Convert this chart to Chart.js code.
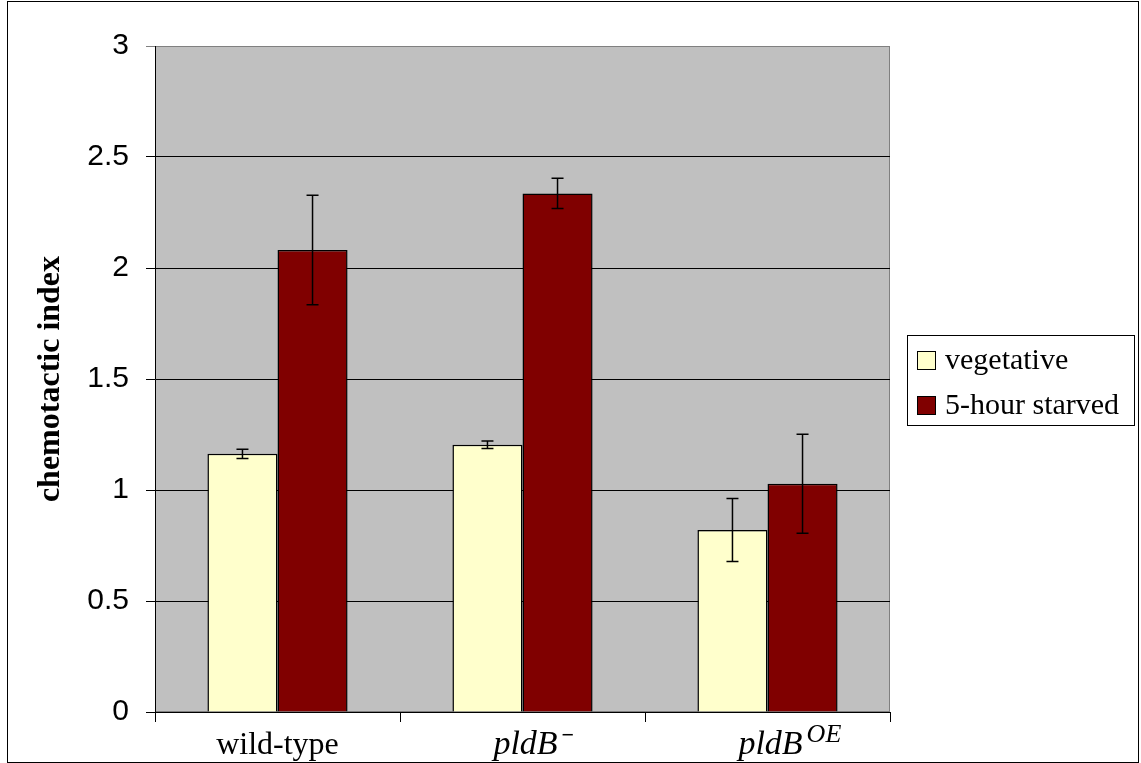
<!doctype html>
<html lang="en">
<head>
  <meta charset="utf-8">
  <title>chemotactic index</title>
  <script src="https://cdn.jsdelivr.net/npm/chart.js@4.4.1/dist/chart.umd.min.js"></script>
  <style>
    * { margin: 0; padding: 0; }
    body { background: #fff; width: 1141px; height: 763px; overflow: hidden; }
  </style>
</head>
<body>
  <canvas id="myChart" width="1141" height="763"></canvas>
  <script>
    // data
    const categories = ['wild-type', 'pldB', 'pldB'];
    const categorySup = ['', '\u2212', 'OE'];
    const seriesNames = ['vegetative', '5-hour starved'];
    const vegetative = [1.163, 1.204, 0.820];
    const vegetativeErr = [0.021, 0.017, 0.142];
    const starved = [2.081, 2.336, 1.028];
    const starvedErr = [0.247, 0.068, 0.223];
    const yTicks = [0, 0.5, 1, 1.5, 2, 2.5, 3];

    const serif = "'Liberation Serif', 'Times New Roman', serif";
    const sans = "'Liberation Sans', Arial, sans-serif";

    // grey plot area with its border, plus the outer frame
    const plotBg = {
      id: 'plotBg',
      beforeDraw(chart) {
        const { ctx, chartArea: a, width, height } = chart;
        ctx.save();
        ctx.fillStyle = '#c0c0c0';
        ctx.fillRect(a.left, a.top, a.right - a.left, a.bottom - a.top);
        ctx.strokeStyle = '#808080';
        ctx.lineWidth = 1;
        ctx.strokeRect(a.left + 0.5, a.top + 0.5, a.right - a.left - 1, a.bottom - a.top - 1);
        ctx.strokeStyle = '#000';
        ctx.strokeRect(7.5, 1.5, width - 10, height - 2);
        ctx.restore();
      }
    };

    // error bars
    const errorBars = {
      id: 'errorBars',
      afterDatasetsDraw(chart) {
        const { ctx } = chart;
        const y = chart.scales.y;
        ctx.save();
        ctx.strokeStyle = '#000';
        ctx.lineWidth = 1.5;
        chart.data.datasets.forEach((ds, di) => {
          const meta = chart.getDatasetMeta(di);
          meta.data.forEach((bar, i) => {
            const v = ds.data[i], e = ds.errors[i];
            const top = y.getPixelForValue(v + e);
            const bot = y.getPixelForValue(v - e);
            ctx.beginPath();
            ctx.moveTo(bar.x, top); ctx.lineTo(bar.x, bot);
            ctx.moveTo(bar.x - 6, top); ctx.lineTo(bar.x + 6, top);
            ctx.moveTo(bar.x - 6, bot); ctx.lineTo(bar.x + 6, bot);
            ctx.stroke();
          });
        });
        ctx.restore();
      }
    };

    // category labels with italic gene names and superscripts
    const xLabels = {
      id: 'xLabels',
      afterDraw(chart) {
        const { ctx } = chart;
        const x = chart.scales.x;
        const base = x.bottom - 9;
        ctx.save();
        ctx.fillStyle = '#000';
        ctx.textBaseline = 'alphabetic';
        ctx.textAlign = 'left';
        categories.forEach((label, i) => {
          const cx = x.getPixelForTick(i);
          ctx.font = (i === 0 ? '32px ' : 'italic 34px ') + serif;
          const w = ctx.measureText(label).width;
          const left = i === 0 ? cx - w / 2 : cx - w / 2 + 3;
          ctx.fillText(label, left, base);
          if (categorySup[i]) {
            ctx.font = (i === 2 ? 'italic 26px ' : 'bold 22px ') + serif;
            ctx.fillText(categorySup[i], left + w + 4, base - 12);
          }
        });
        ctx.restore();
      }
    };

    // boxed legend on the right
    const boxLegend = {
      id: 'boxLegend',
      afterDraw(chart) {
        const { ctx, chartArea: a } = chart;
        const left = a.right + 17, top = 335, w = 227, h = 90;
        ctx.save();
        ctx.strokeStyle = '#000';
        ctx.lineWidth = 1;
        ctx.strokeRect(left + 0.5, top + 0.5, w, h);
        ctx.font = '30px ' + serif;
        ctx.textBaseline = 'middle';
        ctx.textAlign = 'left';
        chart.data.datasets.forEach((ds, i) => {
          const cy = top + 25 + i * 45;
          ctx.fillStyle = ds.backgroundColor;
          ctx.fillRect(left + 10, cy - 9, 19, 19);
          ctx.strokeRect(left + 10.5, cy - 8.5, 18, 18);
          ctx.fillStyle = '#000';
          ctx.fillText(ds.label, left + 38, cy + 1);
        });
        ctx.restore();
      }
    };

    const data = {
      labels: categories.map((c, i) => c + categorySup[i]),
      datasets: [{
        label: seriesNames[0],
        data: vegetative,
        errors: vegetativeErr,
        backgroundColor: '#ffffcc',
        borderColor: '#000',
        borderWidth: 1.5,
        categoryPercentage: 0.572,
        barPercentage: 1
      }, {
        label: seriesNames[1],
        data: starved,
        errors: starvedErr,
        backgroundColor: '#800000',
        borderColor: '#000',
        borderWidth: 1.5,
        categoryPercentage: 0.572,
        barPercentage: 1
      }]
    };

    const config = {
      type: 'bar',
      data,
      options: {
        responsive: false,
        animation: false,
        devicePixelRatio: 1,
        layout: { padding: { top: 46, right: 251, left: 0, bottom: 0 } },
        plugins: {
          legend: { display: false },
          tooltip: { enabled: false }
        },
        scales: {
          x: {
            offset: true,
            grid: {
              offset: true,
              drawOnChartArea: false,
              drawTicks: true,
              tickLength: 10,
              color: '#000'
            },
            border: { display: true, color: '#000' },
            ticks: { color: 'rgba(0,0,0,0)', font: { size: 31, family: serif } },
            afterFit(scale) { scale.height = 51; }
          },
          y: {
            min: 0,
            max: 3,
            afterBuildTicks(scale) { scale.ticks = yTicks.map(v => ({ value: v })); },
            grid: {
              color: (c) => c.tick && c.tick.value === 3 ? '#808080' : '#000',
              tickLength: 9
            },
            border: { display: true, color: '#000' },
            ticks: {
              padding: 17,
              color: '#000',
              font: { size: 30, family: sans },
              callback: (v) => String(v)
            },
            title: {
              display: true,
              text: 'chemotactic index',
              color: '#000',
              font: { size: 32, weight: 'bold', family: serif },
              padding: { top: 32, bottom: 0 }
            },
            afterFit(scale) { scale.width = 155; }
          }
        }
      },
      plugins: [plotBg, errorBars, xLabels, boxLegend]
    };

    const myChart = new Chart(document.getElementById('myChart'), config);
  </script>
</body>
</html>
